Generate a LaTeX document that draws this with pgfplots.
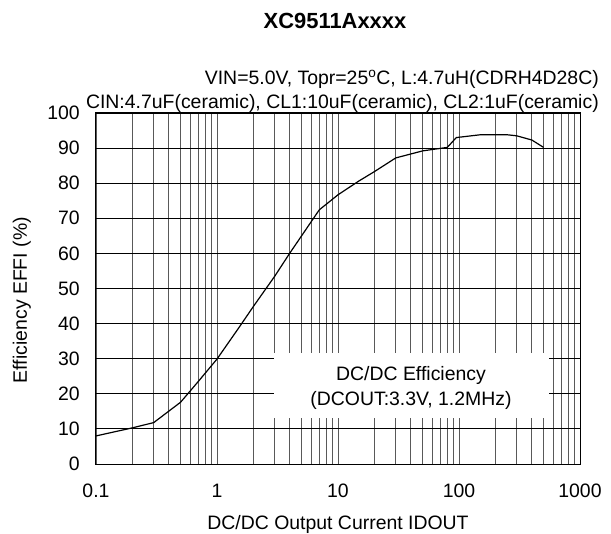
\documentclass[border=0pt]{standalone}
\usepackage{pgfplots}
\pgfplotsset{compat=1.18}
\usepackage{fontspec}
\setmainfont{Liberation Sans}
\newcommand{\chartfont}{\fontsize{19.5}{22}\selectfont}
\begin{document}
\begin{tikzpicture}
\begin{axis}[
  name=ax,
  scale only axis, width=484bp, height=351bp,
  xmode=log, log basis x=10,
  xmin=0.1, xmax=1000, ymin=0, ymax=100,
  xtick={0.1,1,10,100,1000}, xticklabels={0.1,1,10,100,1000},
  minor xtick={0.2,0.3,0.4,0.5,0.6,0.7,0.8,0.9,2,3,4,5,6,7,8,9,20,30,40,50,60,70,80,90,200,300,400,500,600,700,800,900},
  ytick={0,10,20,30,40,50,60,70,80,90,100},
  grid=both,
  major x grid style={black!65, line width=0.9bp},
  minor x grid style={black!65, line width=0.9bp},
  major y grid style={black, line width=0.9bp},
  major tick length=0pt, minor tick length=0pt,
  axis line style={black, line width=1bp},
  tick label style={font=\chartfont},
  /pgf/number format/assume math mode=true,
  xticklabel style={anchor=base, inner sep=0pt, yshift=-33bp},
  yticklabel style={anchor=east, inner sep=0pt, xshift=-16bp},
  xlabel={DC/DC Output Current IDOUT},
  ylabel={Efficiency EFFI (\%)},
  every axis x label/.style={at={(axis description cs:0.5,0)}, anchor=base, yshift=-65bp, inner sep=0pt, font=\chartfont},
  every axis y label/.style={at={(axis description cs:0,0.467)}, rotate=90, anchor=base, yshift=69bp, inner sep=0pt, font=\chartfont},
  title={XC9511Axxxx},
  every axis title/.style={at={(axis description cs:0.5,1)}, anchor=base, xshift=-3bp, yshift=84.7bp, inner sep=0pt, font=\fontsize{22}{25}\selectfont\bfseries},
]
\fill[white] (axis cs:2.96,13.1) rectangle (axis cs:555,31.6);
\node[anchor=base, inner sep=0pt, font=\chartfont] at (axis cs:40.1,23.9) {DC/DC Efficiency};
\node[anchor=base, inner sep=0pt, font=\chartfont] at (axis cs:40.1,16.8) {(DCOUT:3.3V, 1.2MHz)};
\addplot[black, line width=1.2bp, mark=none] coordinates {
(0.1,8.0) (0.2,10.3) (0.3,11.8) (0.5,17.6) (0.7,23.5) (1.0,29.9) (1.5,38.6)
(2,44.9) (3,53.5) (4,60.1) (5,65.0) (7,72.4) (10,76.7) (15,80.7) (20,83.3)
(30,87.2) (50,89.2) (80,90.2) (95,93.0) (150,93.8) (250,93.8) (300,93.5)
(400,92.3) (500,90.2)
};
\end{axis}
\node[anchor=base east, inner sep=0pt, font=\chartfont] at ([xshift=19bp, yshift=28bp]ax.north east) {VIN=5.0V, Topr=25\textsuperscript{o}C, L:4.7uH(CDRH4D28C)};
\node[anchor=base east, inner sep=0pt, font=\chartfont] at ([xshift=19bp, yshift=4bp]ax.north east) {CIN:4.7uF(ceramic), CL1:10uF(ceramic), CL2:1uF(ceramic)};
\pgfresetboundingbox
\path[use as bounding box] ([xshift=-96bp, yshift=-69bp]ax.south west) rectangle ([xshift=31bp, yshift=113bp]ax.north east);
\end{tikzpicture}
\end{document}
